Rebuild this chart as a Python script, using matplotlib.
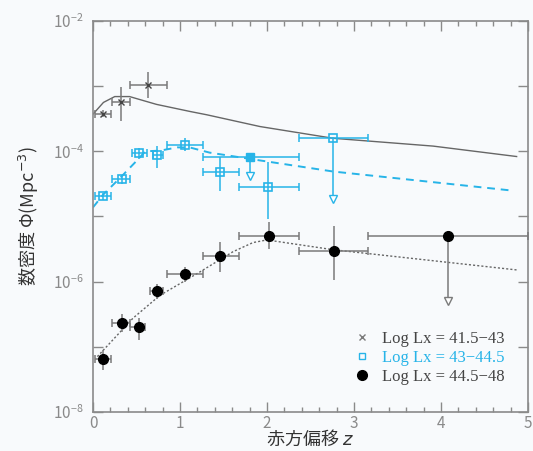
import matplotlib
matplotlib.use('Agg')
from matplotlib import pyplot as plt
from matplotlib.ticker import FixedLocator, NullFormatter, MultipleLocator
import numpy as np

plt.rcParams['font.family'] = ['Noto Sans CJK JP', 'DejaVu Sans']

# log Lx = 41.5-43 (crosses)
x1_z = [0.12, 0.32, 0.63]
x1_lo = [0.02, 0.22, 0.43]
x1_hi = [0.21, 0.43, 0.85]
x1_log = [-3.42, -3.25, -2.99]
x1_ylo = [-3.47, -3.54, -3.18]
x1_yhi = [-3.37, -3.02, -2.79]

# log Lx = 43-44.5 (squares)
x2_z = [0.12, 0.33, 0.53, 0.74, 1.06, 1.46, 2.01]
x2_lo = [0.02, 0.22, 0.45, 0.69, 0.85, 1.26, 1.68]
x2_hi = [0.21, 0.43, 0.62, 0.80, 1.27, 1.68, 2.37]
x2_log = [-4.69, -4.43, -4.03, -4.06, -3.91, -4.32, -4.54]
x2_ylo = [-4.74, -4.50, -4.12, -4.25, -4.00, -4.61, -5.04]
x2_yhi = [-4.64, -4.36, -3.95, -3.92, -3.80, -4.08, -4.17]
# upper limits
x2u_z = [1.80, 2.76]
x2u_lo = [1.26, 2.37]
x2u_hi = [2.37, 3.16]
x2u_log = [-4.08, -3.80]
x2u_end = [-4.38, -4.73]

# log Lx = 44.5-48 (filled circles)
x3_z = [0.12, 0.33, 0.53, 0.74, 1.06, 1.46, 2.02, 2.77]
x3_lo = [0.02, 0.22, 0.42, 0.65, 0.85, 1.26, 1.68, 2.37]
x3_hi = [0.21, 0.43, 0.60, 0.80, 1.27, 1.68, 2.37, 3.16]
x3_log = [-7.18, -6.63, -6.69, -6.15, -5.88, -5.60, -5.30, -5.53]
x3_ylo = [-7.36, -6.77, -6.90, -6.26, -6.00, -5.85, -5.50, -5.97]
x3_yhi = [-7.05, -6.49, -6.56, -6.03, -5.77, -5.39, -5.09, -5.14]
x3u_z = [4.08]
x3u_lo = [3.16]
x3u_hi = [5.0]
x3u_log = [-5.30]
x3u_end = [-6.29]

# model curves
m1_z = [0.0, 0.12, 0.25, 0.42, 0.73, 1.12, 1.31, 1.92, 2.76, 3.91, 4.87]
m1_log = [-3.43, -3.25, -3.16, -3.16, -3.28, -3.39, -3.44, -3.62, -3.80, -3.92, -4.08]
m2_z = [0.0, 0.12, 0.31, 0.52, 0.6, 0.77, 0.97, 1.11, 1.34, 1.92, 2.76, 4.8]
m2_log = [-4.86, -4.66, -4.41, -4.12, -4.0, -3.99, -3.94, -3.94, -4.02, -4.14, -4.31, -4.60]
m3_z = [0.05, 0.46, 0.77, 1.23, 1.61, 1.84, 2.0, 2.76, 4.87]
m3_log = [-7.15, -6.56, -6.21, -5.85, -5.54, -5.40, -5.36, -5.51, -5.82]

cyan = '#27b4e8'
dark = '#444444'
gray = '#7a7a7a'


def p(v):
    return 10 ** np.array(v)


def points(ax, z, lo, hi, lg, ylo, yhi, color, **kw):
    z = np.array(z)
    xe = [z - np.array(lo), np.array(hi) - z]
    y = p(lg)
    ye = [y - p(ylo), p(yhi) - y]
    ax.errorbar(z, y, xerr=xe, fmt='none', ecolor=color, elinewidth=1.1, capsize=3, capthick=1.1, zorder=3)
    ax.errorbar(z, y, yerr=ye, fmt='none', ecolor=color, elinewidth=1.1, capsize=0, zorder=3)
    ax.plot(z, y, linestyle='none', zorder=4, **kw)


def limits(ax, z, lo, hi, lg, end, color, **kw):
    z = np.array(z)
    y = p(lg)
    ax.errorbar(z, y, xerr=[z - np.array(lo), np.array(hi) - z], fmt='none', ecolor=color,
                elinewidth=1.1, capsize=3, capthick=1.1, zorder=3)
    for zi, yi, ei in zip(z, y, p(end)):
        ax.plot([zi, zi], [yi, ei], color=color, lw=1.1, zorder=3)
    ax.plot(z, p(end), 'v', ms=6, mfc='white', mec=color, mew=1.0, zorder=4)
    ax.plot(z, y, linestyle='none', zorder=4, **kw)


fig = plt.figure(figsize=(5.33, 4.51), dpi=100, facecolor='#f8fafc')
ax = fig.add_axes([0.1745, 0.0865, 0.816, 0.867])
ax.set_facecolor('#f8fafc')

ax.plot(m1_z, p(m1_log), color='#666666', lw=1.0, zorder=2)
ax.plot(m2_z, p(m2_log), color=cyan, lw=1.4, ls=(0, (4, 3)), zorder=2)
ax.plot(m3_z, p(m3_log), color='#666666', lw=1.0, ls=(0, (1.5, 1.5)), zorder=2)

points(ax, x1_z, x1_lo, x1_hi, x1_log, x1_ylo, x1_yhi, gray,
       marker='x', ms=5, mec=dark, mew=1.0)
points(ax, x2_z, x2_lo, x2_hi, x2_log, x2_ylo, x2_yhi, cyan,
       marker='s', ms=6, mfc='none', mec=cyan, mew=1.2)
limits(ax, x2u_z[:1], x2u_lo[:1], x2u_hi[:1], x2u_log[:1], x2u_end[:1], cyan,
       marker='s', ms=6, mfc=cyan, mec=cyan)
limits(ax, x2u_z[1:], x2u_lo[1:], x2u_hi[1:], x2u_log[1:], x2u_end[1:], cyan,
       marker='s', ms=6, mfc='none', mec=cyan, mew=1.2)
points(ax, x3_z, x3_lo, x3_hi, x3_log, x3_ylo, x3_yhi, gray,
       marker='o', ms=7, mfc='black', mec='black')
limits(ax, x3u_z, x3u_lo, x3u_hi, x3u_log, x3u_end, gray,
       marker='o', ms=7, mfc='black', mec='black')

ax.set_yscale('log')
ax.set_xlim(0, 5)
ax.set_ylim(1e-8, 1e-2)
ax.yaxis.set_major_locator(FixedLocator([1e-8, 1e-6, 1e-4, 1e-2]))
ax.yaxis.set_minor_locator(FixedLocator([1e-7, 1e-5, 1e-3]))
ax.yaxis.set_minor_formatter(NullFormatter())
ax.xaxis.set_major_locator(MultipleLocator(1))
ax.xaxis.set_minor_locator(MultipleLocator(0.2))

for s in ax.spines.values():
    s.set_color('#8a8a8a')
    s.set_linewidth(1.2)
ax.tick_params(which='both', direction='in', top=True, right=True, colors='#8a8a8a',
               labelcolor='#8a8a8a', labelsize=11)
ax.tick_params(which='major', length=7, width=1.0)
ax.tick_params(axis='y', which='major', pad=7)
ax.tick_params(axis='x', which='major', pad=2)
ax.tick_params(axis='x', which='minor', length=3.5, width=1.0)
ax.tick_params(axis='y', which='minor', length=7, width=1.0)

ax.set_xlabel('赤方偏移 $z$', fontsize=13, color='#333333', labelpad=-2)
ax.set_ylabel('数密度 Φ(Mpc$^{-3}$)', fontsize=13, color='#333333', labelpad=8)

# legend
lh = [
    ax.plot([], [], 'x', ms=5, mec=gray, mew=1.0)[0],
    ax.plot([], [], 's', ms=5, mfc='none', mec=cyan, mew=1.0)[0],
    ax.plot([], [], 'o', ms=7, mfc='black', mec='black')[0],
]
labels = ['Log Lx = 41.5\u221243', 'Log Lx = 43\u221244.5', 'Log Lx = 44.5\u221248']
leg = ax.legend(lh, labels, loc='lower right', bbox_to_anchor=(0.98, 0.03), frameon=False,
                prop={'family': 'Liberation Serif', 'size': 12}, handletextpad=0.6,
                labelspacing=0.2, handlelength=1.2)
for t, c in zip(leg.get_texts(), ['#444444', cyan, '#444444']):
    t.set_color(c)

fig.savefig('out.png', dpi=100, facecolor=fig.get_facecolor())
